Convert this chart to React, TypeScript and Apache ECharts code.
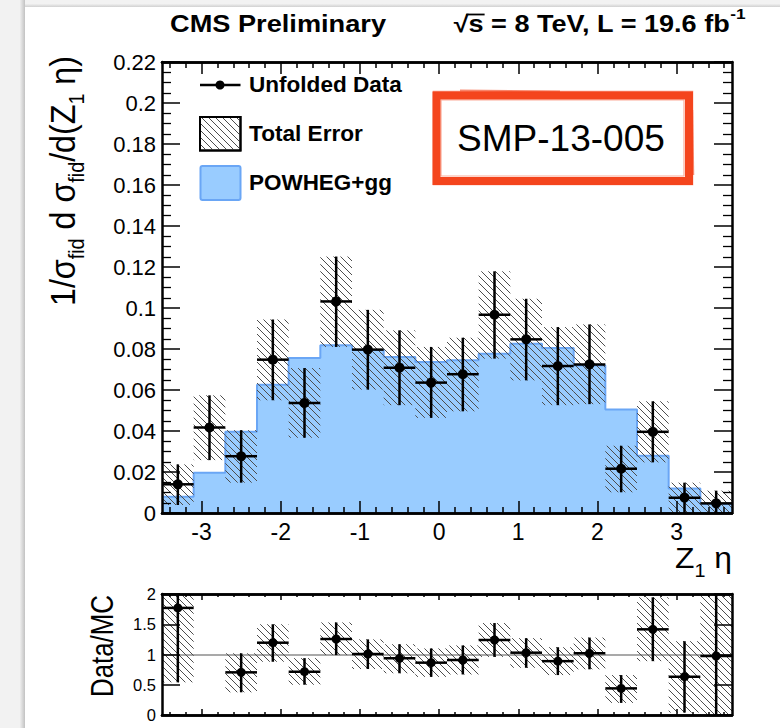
import React, { useEffect, useRef } from 'react';
import * as echarts from 'echarts';

const FONT = '"Liberation Sans", Arial, Helvetica, sans-serif';

// ---- data ----
const binEdges = [-3.5, -3.1, -2.7, -2.3, -1.9, -1.5, -1.1, -0.7, -0.3, 0.1, 0.5, 0.9, 1.3, 1.7, 2.1, 2.5, 2.9, 3.3, 3.7];
const mcValues = [0.0079, 0.0196, 0.0396, 0.0626, 0.0756, 0.0818, 0.0795, 0.0761, 0.0737, 0.0745, 0.0777, 0.0826, 0.0805, 0.0720, 0.0505, 0.0279, 0.0120, 0.0044];
const dataValues = [0.0140, 0.0417, 0.0277, 0.0748, 0.0537, 0.1032, 0.0797, 0.0709, 0.0636, 0.0677, 0.0967, 0.0847, 0.0717, 0.0725, 0.0216, 0.0396, 0.0075, 0.0047];
const dataLow = [0.0039, 0.0258, 0.0148, 0.0550, 0.0367, 0.0810, 0.0602, 0.0526, 0.0464, 0.0496, 0.0753, 0.0647, 0.0526, 0.0531, 0.0101, 0.0247, 0.0, 0.0];
const dataHigh = [0.0237, 0.0574, 0.0404, 0.0944, 0.0707, 0.1251, 0.0991, 0.0891, 0.0810, 0.0855, 0.1179, 0.1045, 0.0907, 0.0920, 0.0328, 0.0545, 0.0148, 0.0109];
const ratioValues = [1.77, null, 0.705, 1.195, 0.716, 1.256, 1.008, 0.937, 0.865, 0.909, 1.24, 1.03, 0.89, 1.02, 0.44, 1.416, 0.633, 0.975];
const ratioLow = [0.54, null, 0.375, 0.88, 0.50, 0.99, 0.76, 0.69, 0.63, 0.67, 0.96, 0.78, 0.66, 0.755, 0.20, 0.89, 0.04, 0.0];
const ratioHigh = [2.3, null, 1.02, 1.50, 0.94, 1.53, 1.25, 1.17, 1.10, 1.15, 1.52, 1.27, 1.12, 1.28, 0.66, 1.945, 1.22, 2.1];
const xTickValues = [-3, -2, -1, 0, 1, 2, 3];
const xMinorTickValues = [-3.4, -3.2, -2.8, -2.6, -2.4, -2.2, -1.8, -1.6, -1.4, -1.2, -0.8, -0.6, -0.4, -0.2, 0.2, 0.4, 0.6, 0.8, 1.2, 1.4, 1.6, 1.8, 2.2, 2.4, 2.6, 2.8, 3.2, 3.4, 3.6];
const X_MIN = -3.5;
const X_MAX = 3.7;
const RATIO_MAX = 2;

const MC_FILL = '#99ccff';
const MC_LINE = '#6aa6f5';
const HATCH_SP = 7;
const HATCH_COLOR = '#4d4d4d';

let mctx: CanvasRenderingContext2D | null = null;
function measure(t: string, size: number, weight: string) {
  if (!mctx) mctx = document.createElement('canvas').getContext('2d');
  mctx!.font = `${weight} ${size}px ${FONT}`;
  return mctx!.measureText(t).width;
}

interface Piece { t: string; s: number; dy?: number; w?: string }
function textRun(pieces: Piece[], x: number, y: number, o: any) {
  const widths = pieces.map((p) => measure(p.t, p.s, p.w || 'normal'));
  const total = widths.reduce((a, b) => a + b, 0);
  const sx = o.target ? o.target / total : (o.sx ?? 1);
  let cur = o.align === 'center' ? -total / 2 : o.align === 'right' ? -total : 0;
  const children: any[] = [];
  pieces.forEach((p, i) => {
    if (p.t.trim() !== '') {
      children.push({
        type: 'text', x: cur, y: (p.dy || 0) - 0.35 * p.s, z: 100, silent: true,
        style: { text: p.t, fontSize: p.s, fontWeight: p.w || 'normal', fontFamily: FONT, fill: o.color || '#000', align: 'left', verticalAlign: 'middle' },
      });
    }
    cur += widths[i];
  });
  return { type: 'group', x, y, rotation: o.rot || 0, scaleX: sx, scaleY: o.sy ?? 1, z: 100, silent: true, children, _sx: sx };
}

function hatchLines(rx0: number, ry0: number, rx1: number, ry1: number, z = 3) {
  const out: any[] = [];
  const cMin = rx0 - ry1, cMax = rx1 - ry0;
  for (let c = Math.ceil(cMin / HATCH_SP) * HATCH_SP; c <= cMax; c += HATCH_SP) {
    const xa = Math.max(rx0, ry0 + c), xb = Math.min(rx1, ry1 + c);
    if (xb > xa + 0.3) {
      out.push({ type: 'line', z, silent: true, shape: { x1: xa, y1: xa - c, x2: xb, y2: xb - c }, style: { stroke: HATCH_COLOR, lineWidth: 1 } });
    }
  }
  return out;
}

const hatchRender = (params: any, api: any) => {
  const p0 = api.coord([api.value(0), api.value(3)]);
  const p1 = api.coord([api.value(1), api.value(2)]);
  return { type: 'group', children: hatchLines(p0[0], p0[1], p1[0], p1[1]) };
};

const errorRender = (radius: number) => (params: any, api: any) => {
  const cx = api.value(0), v = api.value(1);
  const pc = api.coord([cx, v]);
  const pl = api.coord([cx, api.value(2)]);
  const ph = api.coord([cx, api.value(3)]);
  const pe0 = api.coord([api.value(4), v]);
  const pe1 = api.coord([api.value(5), v]);
  const st = { stroke: '#000', lineWidth: 2.5 };
  return {
    type: 'group',
    children: [
      { type: 'line', shape: { x1: pc[0], y1: pl[1], x2: pc[0], y2: ph[1] }, style: st },
      { type: 'line', shape: { x1: pe0[0], y1: pc[1], x2: pe1[0], y2: pc[1] }, style: st },
      { type: 'circle', shape: { cx: pc[0], cy: pc[1], r: radius }, style: { fill: '#000' } },
    ],
  };
};

const frameLine = { color: '#000', width: 2.5 };

function xAx(grid: number, pos: string, ticks: number[], len: number, labels: boolean) {
  return {
    type: 'value', gridIndex: grid, position: pos, min: X_MIN, max: X_MAX, z: 10,
    axisLine: { show: true, onZero: false, lineStyle: frameLine },
    axisTick: { show: true, inside: true, length: len, customValues: ticks, lineStyle: { color: '#000', width: 1.5 } },
    axisLabel: labels
      ? { show: true, customValues: ticks, fontSize: 23, fontFamily: FONT, color: '#000', margin: 7 }
      : { show: false },
    splitLine: { show: false },
  };
}

function yAx(grid: number, pos: string, max: number, interval: number, labels: boolean, minor: boolean, fontSize: number) {
  return {
    type: 'value', gridIndex: grid, position: pos, min: 0, max, interval, z: 10,
    axisLine: { show: true, onZero: false, lineStyle: frameLine },
    axisTick: { show: true, inside: true, length: 18, lineStyle: { color: '#000', width: 1.5 } },
    minorTick: { show: minor, splitNumber: 4, length: 9, lineStyle: { color: '#000', width: 1.3 } },
    axisLabel: labels ? { show: true, fontSize, fontFamily: FONT, color: '#000', margin: 6 } : { show: false },
    splitLine: { show: false },
    minorSplitLine: { show: false },
  };
}

function buildOption() {
  const centers = dataValues.map((_, i) => (binEdges[i] + binEdges[i + 1]) / 2);
  const mcStep = binEdges.map((e, i) => [e, mcValues[Math.min(i, mcValues.length - 1)]]);
  const mainHatch = dataValues.map((_, i) => [binEdges[i], binEdges[i + 1], dataLow[i], dataHigh[i]]);
  const mainErr = dataValues.map((v, i) => [centers[i], v, dataLow[i], dataHigh[i], binEdges[i], binEdges[i + 1]]);
  const clamp = (v: number) => Math.max(0, Math.min(RATIO_MAX, v));
  const ratioHatch: any[] = [];
  const ratioErr: any[] = [];
  ratioValues.forEach((v, i) => {
    if (v === null) return;
    ratioHatch.push([binEdges[i], binEdges[i + 1], clamp(ratioLow[i] as number), clamp(ratioHigh[i] as number)]);
    ratioErr.push([centers[i], v, clamp(ratioLow[i] as number), clamp(ratioHigh[i] as number), binEdges[i], binEdges[i + 1]]);
  });

  // texts
  const title = textRun([{ t: 'CMS Preliminary', s: 23.5, w: 'bold' }], 170, 32.3, { target: 216 });
  const energy = textRun(
    [{ t: '√s = 8 TeV, L = 19.6 fb', s: 23.5, w: 'bold' }, { t: '-1', s: 15, w: 'bold', dy: -14 }],
    453.7, 32.3, { target: 292 },
  );
  const esx = (energy as any)._sx;
  const sqrtW = measure('√', 23.5, 'bold') * esx;
  const sW = measure('s', 23.5, 'bold') * esx;
  const yLabel = textRun(
    [
      { t: '1/σ', s: 31 }, { t: 'fid', s: 19, dy: 8 }, { t: ' ', s: 31 }, { t: 'd', s: 31 }, { t: ' ', s: 31 },
      { t: 'σ', s: 31 }, { t: 'fid', s: 19, dy: 8 }, { t: '/d(Z', s: 31 }, { t: '1', s: 19, dy: 8 }, { t: ' ', s: 31 }, { t: 'η)', s: 31 },
    ],
    75, 181, { align: 'center', rot: Math.PI / 2, target: 250, sy: 1.12 },
  );
  const xLabel = textRun([{ t: 'Z', s: 29 }, { t: '1', s: 18, dy: 9 }, { t: ' ', s: 29 }, { t: 'η', s: 29 }], 732, 568, { align: 'right', target: 57 });
  const rLabel = textRun([{ t: 'Data/MC', s: 26 }], 113, 646, { align: 'center', rot: Math.PI / 2, target: 102, sy: 1.2 });
  const leg1 = textRun([{ t: 'Unfolded Data', s: 22, w: 'bold' }], 249, 92.7, { target: 153 });
  const leg2 = textRun([{ t: 'Total Error', s: 22.5, w: 'bold' }], 249, 141.7, { target: 114 });
  const leg3 = textRun([{ t: 'POWHEG+gg', s: 22.5, w: 'bold' }], 249, 190, { target: 143 });
  const smp = textRun([{ t: 'SMP-13-005', s: 37 }], 457, 151.7, { target: 208 });

  const stamp = '#f4451d';
  const graphic: any[] = [
    // page frame shadow
    { type: 'rect', z: 0, silent: true, shape: { x: 0, y: 0, width: 23, height: 728 }, style: { fill: '#f2f2f2' } },
    { type: 'rect', z: 0, silent: true, shape: { x: 20, y: 0, width: 5, height: 728 },
      style: { fill: new echarts.graphic.LinearGradient(0, 0, 1, 0, [{ offset: 0, color: '#eeeeee' }, { offset: 1, color: '#c2c2c2' }]) } },
    { type: 'rect', z: 0, silent: true, shape: { x: 25, y: 0, width: 755, height: 7 }, style: { fill: '#f2f2f2' } },
    { type: 'rect', z: 0, silent: true, shape: { x: 25, y: 4, width: 755, height: 3 },
      style: { fill: new echarts.graphic.LinearGradient(0, 0, 0, 1, [{ offset: 0, color: '#efefef' }, { offset: 1, color: '#d0d0d0' }]) } },
    title, energy,
    { type: 'line', z: 100, silent: true, shape: { x1: 453.7 + sqrtW * 0.85, y1: 14.5, x2: 453.7 + sqrtW + sW + 1, y2: 14.5 }, style: { stroke: '#000', lineWidth: 1.8 } },
    yLabel, xLabel, rLabel,
    // legend
    { type: 'line', z: 100, silent: true, shape: { x1: 200, y1: 85, x2: 240.5, y2: 85 }, style: { stroke: '#000', lineWidth: 2.5 } },
    { type: 'circle', z: 100, silent: true, shape: { cx: 220, cy: 85, r: 4.5 }, style: { fill: '#000' } },
    leg1,
    { type: 'rect', z: 99, silent: true, shape: { x: 200, y: 117, width: 40.5, height: 33.5 }, style: { fill: '#fff', stroke: '#000', lineWidth: 2 } },
    ...hatchLines(201, 118, 239.5, 149.5, 100),
    { type: 'rect', z: 101, silent: true, shape: { x: 200, y: 117, width: 40.5, height: 33.5 }, style: { fill: 'none', stroke: '#000', lineWidth: 2 } },
    leg2,
    { type: 'rect', z: 100, silent: true, shape: { x: 200.5, y: 166, width: 40, height: 34, r: 2 }, style: { fill: MC_FILL, stroke: MC_LINE, lineWidth: 2 } },
    leg3,
    // SMP stamp (rough red frame)
    { type: 'rect', z: 100, silent: true, shape: { x: 436.5, y: 95.5, width: 252.5, height: 85.5 }, style: { fill: 'none', stroke: stamp, lineWidth: 8 } },
    { type: 'rect', z: 100, silent: true, shape: { x: 433.5, y: 91.5, width: 259, height: 93 }, style: { fill: 'none', stroke: stamp, lineWidth: 1.5, opacity: 0.55 } },
    { type: 'rect', z: 100, silent: true, shape: { x: 441, y: 100, width: 243, height: 76 }, style: { fill: 'none', stroke: stamp, lineWidth: 1.2, opacity: 0.45 } },
    { type: 'line', z: 100, silent: true, shape: { x1: 460, y1: 90.5, x2: 560, y2: 91.5 }, style: { stroke: stamp, lineWidth: 2, opacity: 0.6 } },
    { type: 'line', z: 100, silent: true, shape: { x1: 692, y1: 110, x2: 693, y2: 175 }, style: { stroke: stamp, lineWidth: 2.5, opacity: 0.6 } },
    smp,
  ];

  return {
    animation: false,
    backgroundColor: '#ffffff',
    grid: [
      { left: 162, top: 62, right: 48, bottom: 215, containLabel: false },
      { left: 162, top: 594, right: 48, bottom: 13, containLabel: false },
    ],
    xAxis: [
      xAx(0, 'bottom', xTickValues, 12, true),
      xAx(0, 'bottom', xMinorTickValues, 6, false),
      xAx(0, 'top', xTickValues, 12, false),
      xAx(0, 'top', xMinorTickValues, 6, false),
      xAx(1, 'bottom', xTickValues, 6, false),
      xAx(1, 'bottom', xMinorTickValues, 3, false),
      xAx(1, 'top', xTickValues, 6, false),
      xAx(1, 'top', xMinorTickValues, 3, false),
    ],
    yAxis: [
      yAx(0, 'left', 0.22, 0.02, true, true, 22),
      yAx(0, 'right', 0.22, 0.02, false, true, 22),
      yAx(1, 'left', RATIO_MAX, 0.5, true, false, 16.5),
      yAx(1, 'right', RATIO_MAX, 0.5, false, false, 16.5),
    ],
    graphic,
    series: [
      {
        name: 'POWHEG+gg', type: 'line', xAxisIndex: 0, yAxisIndex: 0, step: 'end', data: mcStep,
        symbol: 'none', showSymbol: false, silent: true, z: 2,
        lineStyle: { color: MC_LINE, width: 2 }, areaStyle: { color: MC_FILL, opacity: 1 },
      },
      {
        name: 'Total Error', type: 'custom', xAxisIndex: 0, yAxisIndex: 0, data: mainHatch, silent: true, z: 3,
        encode: { x: [0, 1], y: [2, 3] }, renderItem: hatchRender,
      },
      {
        name: 'Unfolded Data', type: 'custom', xAxisIndex: 0, yAxisIndex: 0, data: mainErr, silent: true, z: 4,
        encode: { x: [0, 4, 5], y: [1, 2, 3] }, renderItem: errorRender(5),
      },
      {
        name: 'Ratio error', type: 'custom', xAxisIndex: 4, yAxisIndex: 2, data: ratioHatch, silent: true, z: 3,
        encode: { x: [0, 1], y: [2, 3] }, renderItem: hatchRender,
        markLine: {
          silent: true, symbol: 'none', label: { show: false }, z: 2,
          lineStyle: { color: '#8c8c8c', width: 1.5, type: 'solid' },
          data: [{ yAxis: 1 }],
        },
      },
      {
        name: 'Ratio', type: 'custom', xAxisIndex: 4, yAxisIndex: 2, data: ratioErr, silent: true, z: 4,
        encode: { x: [0, 4, 5], y: [1, 2, 3] }, renderItem: errorRender(4.5),
      },
    ],
  };
}

export default function App() {
  const ref = useRef<HTMLDivElement>(null);
  useEffect(() => {
    document.body.style.margin = '0';
    document.body.style.overflow = 'hidden';
    if (!ref.current) return;
    const chart = echarts.init(ref.current, undefined, { renderer: 'svg' });
    chart.setOption(buildOption() as any);
    return () => chart.dispose();
  }, []);
  return <div ref={ref} style={{ width: 780, height: 728 }} />;
}
